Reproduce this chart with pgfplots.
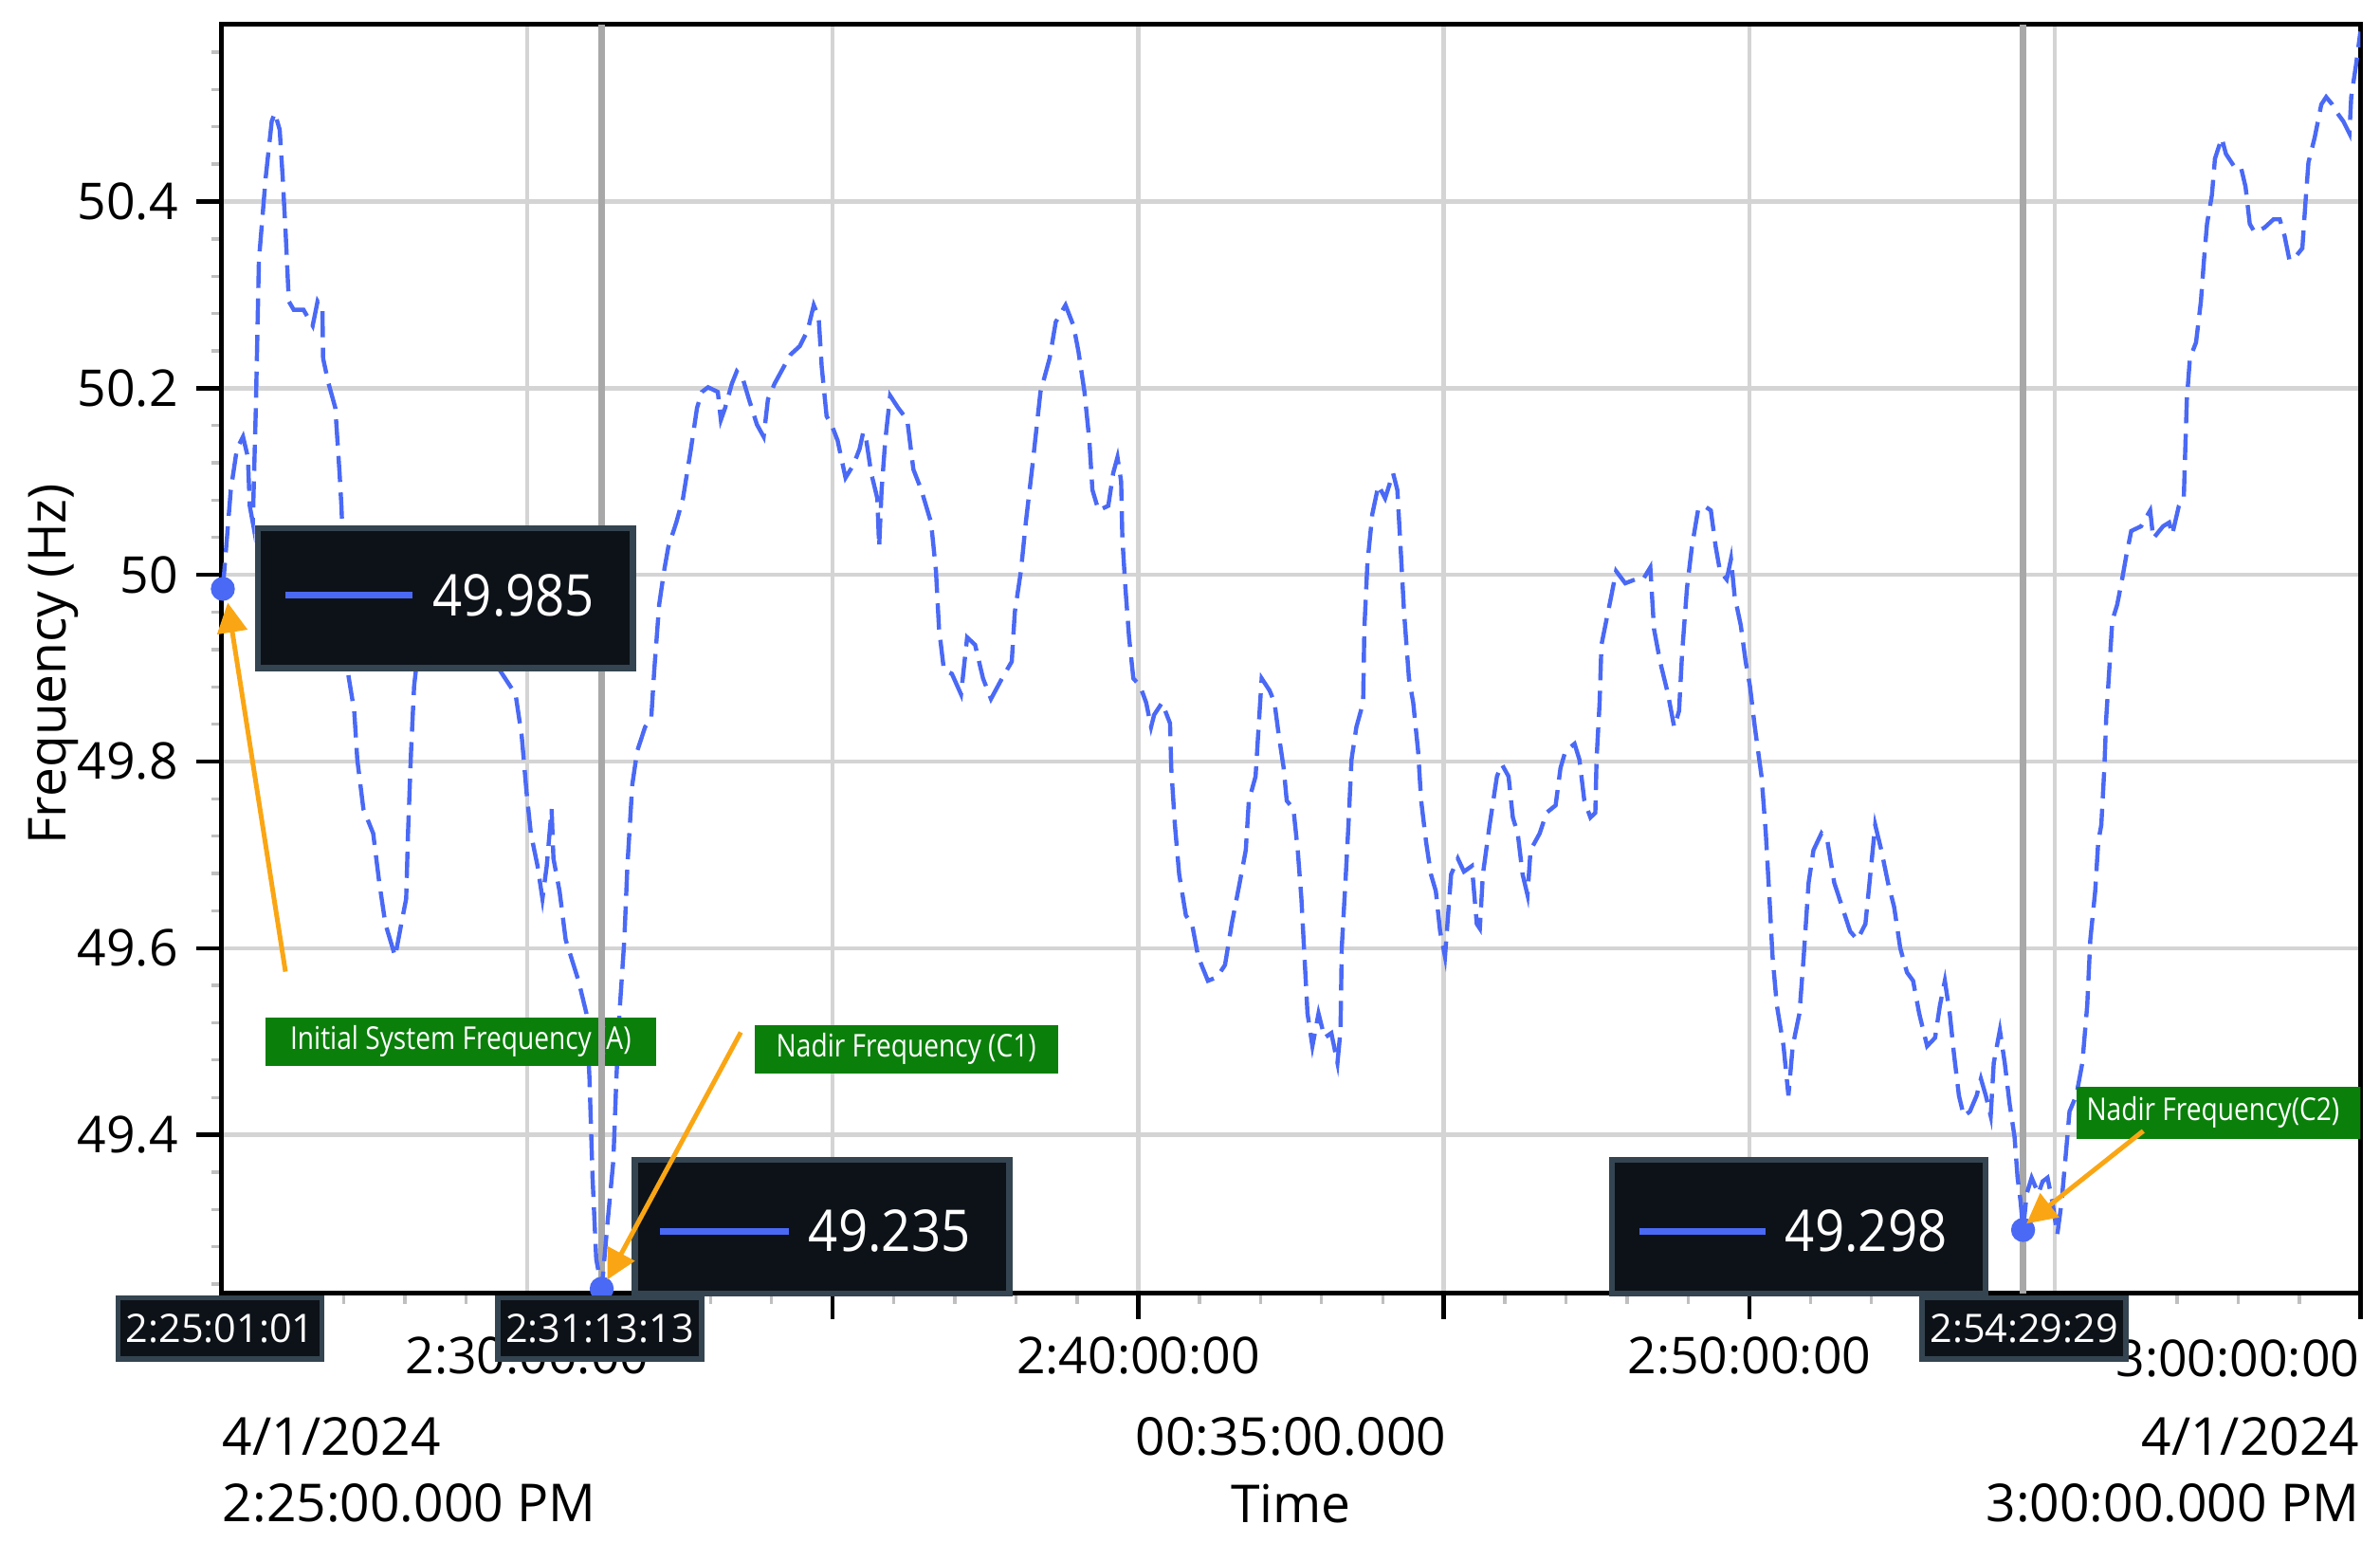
\documentclass[border=0pt]{standalone}
\usepackage{fontspec}
\setmainfont{Open Sans}
\usepackage{graphicx}
\usepackage{pgfplots}
\pgfplotsset{compat=1.18}
\usetikzlibrary{arrows.meta}

\definecolor{curve}{RGB}{74,105,245}
\definecolor{gridc}{RGB}{212,212,212}
\definecolor{cursorc}{RGB}{168,168,168}
\definecolor{tipfill}{RGB}{13,18,24}
\definecolor{tipedge}{RGB}{52,68,80}
\definecolor{tagc}{RGB}{10,128,10}
\definecolor{arrowc}{RGB}{250,166,20}

\begin{document}
\begin{tikzpicture}
\begin{axis}[
  scale only axis, width=14.378cm, height=8.531cm,
  xmin=0, xmax=35, ymin=49.23, ymax=50.59,
  xtick={0,5,...,35},
  xticklabels={,2:30:00:00,,2:40:00:00,,2:50:00:00,,},
  minor xtick={0,1,...,35},
  ytick={49.4,49.6,49.8,50,50.2,50.4},
  yticklabels={49.4,49.6,49.8,50,50.2,50.4},
  minor ytick={49.24,49.28,...,50.58},
  tick pos=left,
  grid=major, grid style={gridc, line width=0.8pt},
  tick align=outside,
  major tick length=0.17cm, minor tick length=0.07cm,
  major tick style={black, line width=0.8pt},
  minor tick style={black!25, line width=0.6pt},
  axis line style={black, line width=0.9pt},
  ticklabel style={font=\fontsize{9.7}{12}\selectfont},
]
% cursor lines
\draw[cursorc, line width=1.2pt] (axis cs:6.22,49.23) -- (axis cs:6.22,50.59);
\draw[cursorc, line width=1.2pt] (axis cs:29.48,49.23) -- (axis cs:29.48,50.59);

\addplot[curve, line width=0.8pt, dash pattern=on 5pt off 2pt, mark=none] coordinates {
(0.02,49.985) (0.15,50.091) (0.25,50.135) (0.35,50.148) (0.43,50.126) (0.46,50.074)
(0.51,50.056) (0.56,50.179) (0.61,50.337) (0.72,50.425) (0.82,50.486) (0.87,50.495)
(0.95,50.477) (1.00,50.425) (1.05,50.363) (1.10,50.293) (1.18,50.284) (1.34,50.284)
(1.49,50.267) (1.57,50.293) (1.65,50.284) (1.66,50.232) (1.75,50.205) (1.86,50.179)
(1.93,50.109) (1.96,50.074) (2.02,49.980) (2.06,49.898) (2.17,49.854) (2.22,49.802)
(2.32,49.749) (2.48,49.723) (2.58,49.670) (2.68,49.626) (2.84,49.591) (2.94,49.626)
(3.02,49.653) (3.05,49.723) (3.10,49.811) (3.15,49.881) (3.18,49.898) (3.30,49.960)
(3.56,49.990) (3.87,49.980) (4.24,49.940) (4.55,49.898) (4.81,49.872) (4.91,49.828)
(4.99,49.767) (5.06,49.723) (5.17,49.688) (5.25,49.653) (5.32,49.688) (5.40,49.749)
(5.43,49.696) (5.53,49.661) (5.63,49.609) (5.84,49.565) (5.97,49.530) (6.02,49.460)
(6.07,49.354) (6.13,49.267) (6.22,49.235) (6.31,49.302) (6.41,49.372) (6.46,49.460)
(6.51,49.530) (6.59,49.609) (6.64,49.688) (6.72,49.775) (6.80,49.811) (6.93,49.837)
(7.03,49.846) (7.08,49.898) (7.16,49.968) (7.24,50.004) (7.31,50.030) (7.44,50.056)
(7.55,50.082) (7.68,50.135) (7.78,50.179) (7.86,50.196) (7.96,50.201) (8.12,50.196)
(8.17,50.166) (8.24,50.179) (8.35,50.205) (8.43,50.218) (8.53,50.210) (8.63,50.188)
(8.76,50.161) (8.87,50.148) (8.94,50.188) (9.05,50.205) (9.20,50.223) (9.31,50.236)
(9.46,50.245) (9.59,50.262) (9.69,50.289) (9.77,50.276) (9.82,50.223) (9.90,50.170)
(9.98,50.161) (10.08,50.144) (10.21,50.104) (10.34,50.118) (10.44,50.135) (10.50,50.153)
(10.55,50.144) (10.63,50.109) (10.73,50.082) (10.76,50.030) (10.80,50.091) (10.86,50.144)
(10.94,50.192) (11.07,50.179) (11.22,50.166) (11.32,50.113) (11.45,50.091) (11.61,50.056)
(11.69,50.004) (11.74,49.942) (11.82,49.898) (11.95,49.894) (12.10,49.872) (12.20,49.933)
(12.33,49.925) (12.46,49.889) (12.59,49.867) (12.77,49.889) (12.93,49.907) (12.98,49.960)
(13.08,50.004) (13.16,50.056) (13.27,50.118) (13.40,50.196) (13.55,50.232) (13.65,50.271)
(13.81,50.289) (13.94,50.267) (14.02,50.240) (14.12,50.196) (14.20,50.144) (14.25,50.091)
(14.35,50.069) (14.51,50.074) (14.59,50.109) (14.66,50.126) (14.72,50.100) (14.74,50.039)
(14.79,49.986) (14.85,49.933) (14.92,49.889) (15.03,49.881) (15.13,49.863) (15.21,49.837)
(15.26,49.850) (15.39,49.863) (15.52,49.841) (15.54,49.793) (15.60,49.732) (15.67,49.679)
(15.78,49.635) (15.88,49.626) (15.98,49.591) (16.14,49.565) (16.29,49.569) (16.42,49.582)
(16.53,49.626) (16.66,49.670) (16.76,49.705) (16.81,49.758) (16.92,49.784) (16.97,49.837)
(17.02,49.889) (17.15,49.876) (17.23,49.863) (17.30,49.828) (17.38,49.793) (17.43,49.758)
(17.54,49.749) (17.61,49.705) (17.67,49.653) (17.72,49.591) (17.77,49.530) (17.85,49.495)
(17.95,49.530) (18.05,49.504) (18.16,49.509) (18.26,49.477) (18.31,49.512) (18.33,49.600)
(18.39,49.670) (18.44,49.732) (18.49,49.802) (18.57,49.837) (18.68,49.863) (18.70,49.942)
(18.75,50.012) (18.83,50.065) (18.93,50.096) (19.04,50.082) (19.17,50.109) (19.24,50.091)
(19.30,50.021) (19.35,49.960) (19.43,49.889) (19.50,49.863) (19.58,49.811) (19.63,49.758)
(19.71,49.714) (19.79,49.679) (19.87,49.661) (19.94,49.618) (20.02,49.591) (20.07,49.635)
(20.12,49.679) (20.23,49.696) (20.33,49.682) (20.46,49.688) (20.54,49.626) (20.59,49.621)
(20.64,49.679) (20.75,49.732) (20.87,49.784) (20.95,49.797) (21.06,49.784) (21.13,49.740)
(21.21,49.723) (21.29,49.679) (21.37,49.657) (21.42,49.705) (21.57,49.723) (21.68,49.745)
(21.83,49.753) (21.91,49.793) (21.99,49.811) (22.14,49.819) (22.22,49.802) (22.30,49.758)
(22.40,49.740) (22.48,49.745) (22.50,49.802) (22.55,49.863) (22.58,49.925) (22.66,49.951)
(22.74,49.977) (22.82,50.004) (22.97,49.991) (23.13,49.995) (23.26,49.995) (23.38,50.008)
(23.44,49.942) (23.54,49.907) (23.67,49.872) (23.77,49.837) (23.85,49.854) (23.90,49.916)
(23.98,49.986) (24.06,50.030) (24.16,50.069) (24.26,50.074) (24.37,50.069) (24.45,50.030)
(24.52,50.004) (24.63,49.995) (24.70,50.017) (24.76,49.977) (24.86,49.946) (24.94,49.907)
(25.01,49.881) (25.09,49.837) (25.20,49.784) (25.27,49.723) (25.33,49.653) (25.38,49.591)
(25.45,49.539) (25.56,49.495) (25.64,49.442) (25.71,49.495) (25.82,49.530) (25.89,49.591)
(25.97,49.670) (26.05,49.705) (26.18,49.723) (26.28,49.714) (26.39,49.670) (26.52,49.644)
(26.65,49.618) (26.77,49.609) (26.90,49.626) (26.98,49.679) (27.06,49.732) (27.16,49.705)
(27.27,49.670) (27.37,49.644) (27.47,49.600) (27.58,49.574) (27.68,49.565) (27.78,49.530)
(27.91,49.495) (28.04,49.504) (28.12,49.539) (28.20,49.565) (28.28,49.530) (28.35,49.486)
(28.43,49.442) (28.51,49.420) (28.61,49.425) (28.72,49.442) (28.79,49.460) (28.87,49.442)
(28.95,49.420) (29.00,49.477) (29.10,49.512) (29.18,49.477) (29.26,49.433) (29.34,49.398)
(29.39,49.354) (29.44,49.328) (29.48,49.298) (29.54,49.337) (29.62,49.354) (29.73,49.337)
(29.80,49.350) (29.88,49.354) (29.96,49.328) (30.04,49.293) (30.11,49.328) (30.17,49.372)
(30.24,49.425) (30.35,49.442) (30.45,49.477) (30.53,49.539) (30.58,49.609) (30.66,49.661)
(30.71,49.714) (30.76,49.732) (30.81,49.793) (30.84,49.846) (30.89,49.898) (30.94,49.951)
(31.02,49.968) (31.10,49.995) (31.17,50.021) (31.25,50.047) (31.41,50.052) (31.56,50.069)
(31.61,50.039) (31.77,50.052) (31.87,50.056) (31.92,50.043) (32.03,50.074) (32.11,50.082)
(32.13,50.126) (32.16,50.188) (32.21,50.232) (32.31,50.249) (32.39,50.293) (32.44,50.337)
(32.49,50.376) (32.57,50.407) (32.62,50.446) (32.73,50.468) (32.80,50.451) (32.93,50.438)
(33.04,50.438) (33.12,50.416) (33.19,50.376) (33.27,50.367) (33.43,50.372) (33.58,50.381)
(33.68,50.381) (33.76,50.363) (33.84,50.337) (33.94,50.341) (34.05,50.350) (34.10,50.398)
(34.15,50.442) (34.25,50.468) (34.36,50.504) (34.44,50.512) (34.54,50.504) (34.62,50.495)
(34.72,50.486) (34.82,50.473) (34.85,50.512) (34.93,50.547) (35.00,50.582)
};
% cursor points
\addplot[only marks, mark=*, mark size=2.1pt, curve] coordinates {
(0.02,49.985) (6.22,49.235) (29.48,49.298)
};
\end{axis}

% y label and bottom texts
\node[rotate=90, font=\fontsize{10}{12}\selectfont] at (-1.13,4.23) {Frequency (Hz)};
\node[anchor=east, inner sep=0pt, font=\fontsize{9.7}{12}\selectfont] at (14.378,-0.44) {3:00:00:00};
\begin{scope}[font=\fontsize{10}{12}\selectfont]
\node[anchor=west, inner sep=0pt] at (0,-0.96) {4/1/2024};
\node[anchor=west, inner sep=0pt] at (0,-1.41) {2:25:00.000 PM};
\node[inner sep=0pt] at (7.189,-0.96) {00:35:00.000};
\node[inner sep=0pt] at (7.189,-1.41) {Time};
\node[anchor=east, inner sep=0pt] at (14.378,-0.96) {4/1/2024};
\node[anchor=east, inner sep=0pt] at (14.378,-1.41) {3:00:00.000 PM};
\end{scope}

% value tooltips
\draw[tipedge, line width=1.2pt, fill=tipfill] (0.245,4.204) rectangle (2.765,5.143);
\draw[curve, line width=1.3pt] (0.429,4.694) -- (1.286,4.694);
\node[text=white, font=\fontsize{11}{13}\selectfont] at (1.964,4.694) {\scalebox{0.9}[1]{49.985}};
\draw[tipedge, line width=1.2pt, fill=tipfill] (2.776,0) rectangle (5.296,0.898);
\draw[curve, line width=1.3pt] (2.949,0.418) -- (3.816,0.418);
\node[text=white, font=\fontsize{11}{13}\selectfont] at (4.49,0.418) {\scalebox{0.9}[1]{49.235}};
\draw[tipedge, line width=1.2pt, fill=tipfill] (9.347,0) rectangle (11.857,0.898);
\draw[curve, line width=1.3pt] (9.531,0.418) -- (10.378,0.418);
\node[text=white, font=\fontsize{11}{13}\selectfont] at (11.056,0.418) {\scalebox{0.9}[1]{49.298}};

% cursor time labels
\tikzset{timetag/.style={fill=tipfill, draw=tipedge, line width=1pt, text=white,
  minimum width=1.37cm, minimum height=0.41cm, inner sep=0pt,
  font=\fontsize{7.5}{9}\selectfont}}
\node[timetag] at (-0.01,-0.235) {2:25:01:01};
\node[timetag] at (2.541,-0.235) {2:31:13:13};
\node[timetag] at (12.117,-0.235) {2:54:29:29};

% green annotation tags
\tikzset{tag/.style={fill=tagc, text=white, inner sep=0pt, font=\fontsize{6}{7}\selectfont}}
\node[tag, minimum width=2.622cm, minimum height=0.326cm] at (1.607,1.694) {\scalebox{0.85}[1]{Initial System Frequency (A)}};
\draw[cursorc, line width=1.2pt] (2.555,1.531) -- (2.555,1.857);
\node[tag, minimum width=2.04cm, minimum height=0.326cm] at (4.602,1.643) {\scalebox{0.85}[1]{Nadir Frequency (C1)}};
\begin{scope}
\clip (0,0) rectangle (14.378,8.531);
\fill[tagc] (12.469,1.041) rectangle (14.5,1.388);
\node[tag, fill=none, anchor=west] at (12.53,1.2145) {\scalebox{0.85}[1]{Nadir Frequency(C2)}};
\end{scope}

% orange arrows
\tikzset{callout/.style={arrowc, line width=0.9pt, -{Triangle[length=0.2cm, width=0.2cm]}}}
\draw[callout] (0.429,2.163) -- (0.041,4.643);
\draw[callout] (3.490,1.755) -- (2.592,0.092);
\draw[callout] (12.918,1.092) -- (12.133,0.469);

\pgfresetboundingbox
\path[use as bounding box] (-1.49,-1.796) rectangle (14.51,8.694);
\end{tikzpicture}
\end{document}
